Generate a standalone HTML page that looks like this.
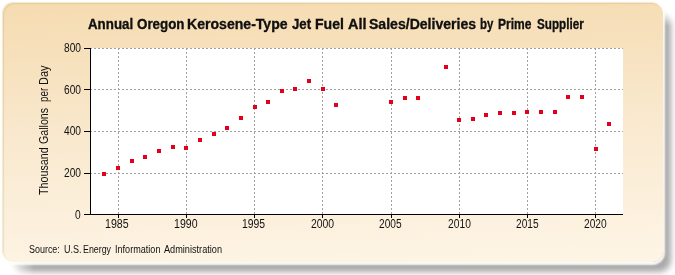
<!DOCTYPE html>
<html><head><meta charset="utf-8"><style>
html,body{margin:0;padding:0;background:#fff;width:675px;height:275px;overflow:hidden}
body{position:relative;font-family:"Liberation Sans",sans-serif;color:#111}
.frame{position:absolute;left:3px;top:3px;width:660px;height:259px;border-radius:11px;
background:linear-gradient(178deg,#f5dbb0 0%,#f9e9cf 50%,#fef5e6 100%);
box-shadow:inset 1px 1px 1px rgba(110,110,60,0.14),-1px -1px 1px 0px rgba(235,220,180,0.6),0 1px 2px 1.5px rgba(255,253,248,0.95)}
.shadow{position:absolute;left:11px;top:13px;width:660px;height:259px;border-radius:12px;background:rgba(0,0,0,0.34);filter:blur(3px)}
.swrap{position:absolute;left:0;top:0;width:675px;height:275px;-webkit-mask-image:linear-gradient(to right,transparent 8px,#000 34px),linear-gradient(to bottom,transparent 6px,#000 26px);-webkit-mask-composite:source-in;mask-composite:intersect}
.plot{position:absolute;left:91px;top:48px;width:532px;height:166px;background:#fff}
svg{position:absolute;left:0;top:0}
.g{stroke:#a0a0a0;stroke-width:1;stroke-dasharray:2 2}
.w{position:absolute;white-space:nowrap;transform-origin:0 0}
.ylab{position:absolute;left:38px;top:200.0px;width:1px;height:1px;transform:rotate(-90deg);transform-origin:0 0}
</style></head><body>
<div class="swrap"><div class="shadow"></div></div>
<div class="frame"></div>
<div class="plot"></div>
<span class="w" style="font-weight:bold;font-size:14px;line-height:16px;-webkit-text-stroke:0.3px #000;left:87.50px;top:16px;transform:scaleX(0.9511)">Annual</span>
<span class="w" style="font-weight:bold;font-size:14px;line-height:16px;-webkit-text-stroke:0.3px #000;left:136.60px;top:16px;transform:scaleX(0.9531)">Oregon</span>
<span class="w" style="font-weight:bold;font-size:14px;line-height:16px;-webkit-text-stroke:0.3px #000;left:186.69px;top:16px;transform:scaleX(1.0051)">Kerosene-Type</span>
<span class="w" style="font-weight:bold;font-size:14px;line-height:16px;-webkit-text-stroke:0.3px #000;left:292.20px;top:16px;transform:scaleX(0.9450)">Jet</span>
<span class="w" style="font-weight:bold;font-size:14px;line-height:16px;-webkit-text-stroke:0.3px #000;left:314.50px;top:16px;transform:scaleX(1.0037)">Fuel</span>
<span class="w" style="font-weight:bold;font-size:14px;line-height:16px;-webkit-text-stroke:0.3px #000;left:347.70px;top:16px;transform:scaleX(1.0353)">All</span>
<span class="w" style="font-weight:bold;font-size:14px;line-height:16px;-webkit-text-stroke:0.3px #000;left:369.10px;top:16px;transform:scaleX(1.0038)">Sales/Deliveries</span>
<span class="w" style="font-weight:bold;font-size:14px;line-height:16px;-webkit-text-stroke:0.3px #000;left:479.79px;top:16px;transform:scaleX(0.8133)">by</span>
<span class="w" style="font-weight:bold;font-size:14px;line-height:16px;-webkit-text-stroke:0.3px #000;left:498.14px;top:16px;transform:scaleX(0.8605)">Prime</span>
<span class="w" style="font-weight:bold;font-size:14px;line-height:16px;-webkit-text-stroke:0.3px #000;left:537.10px;top:16px;transform:scaleX(0.8339)">Supplier</span>
<span class="w" style="font-size:10px;line-height:10px;left:29.40px;top:245px;transform:scaleX(0.8941)">Source:</span>
<span class="w" style="font-size:10px;line-height:10px;left:63.50px;top:245px;transform:scaleX(0.9000)">U.S.</span>
<span class="w" style="font-size:10px;line-height:10px;left:83.42px;top:245px;transform:scaleX(0.8839)">Energy</span>
<span class="w" style="font-size:10px;line-height:10px;left:115.19px;top:245px;transform:scaleX(0.9082)">Information</span>
<span class="w" style="font-size:10px;line-height:10px;left:164.30px;top:245px;transform:scaleX(0.9159)">Administration</span>
<span class="w" style="font-size:12px;line-height:12px;left:74.65px;top:209px;transform:scaleX(0.85)">0</span>
<span class="w" style="font-size:12px;line-height:12px;left:63.60px;top:167px;transform:scaleX(0.85)">200</span>
<span class="w" style="font-size:12px;line-height:12px;left:64.00px;top:125px;transform:scaleX(0.85)">400</span>
<span class="w" style="font-size:12px;line-height:12px;left:64.00px;top:84px;transform:scaleX(0.85)">600</span>
<span class="w" style="font-size:12px;line-height:12px;left:64.00px;top:42px;transform:scaleX(0.85)">800</span>
<span class="w" style="font-size:12px;line-height:12px;left:105.12px;top:218px;transform:scaleX(0.8846)">1985</span>
<span class="w" style="font-size:12px;line-height:12px;left:174.12px;top:218px;transform:scaleX(0.8808)">1990</span>
<span class="w" style="font-size:12px;line-height:12px;left:242.03px;top:218px;transform:scaleX(0.8654)">1995</span>
<span class="w" style="font-size:12px;line-height:12px;left:310.60px;top:218px;transform:scaleX(0.8667)">2000</span>
<span class="w" style="font-size:12px;line-height:12px;left:378.60px;top:218px;transform:scaleX(0.8444)">2005</span>
<span class="w" style="font-size:12px;line-height:12px;left:447.60px;top:218px;transform:scaleX(0.8556)">2010</span>
<span class="w" style="font-size:12px;line-height:12px;left:515.60px;top:218px;transform:scaleX(0.8444)">2015</span>
<span class="w" style="font-size:12px;line-height:12px;left:584.00px;top:218px;transform:scaleX(0.8519)">2020</span>
<div class="ylab">
<span class="w" style="font-size:12px;line-height:12px;left:4.50px;top:0px;transform:scaleX(0.8925)">Thousand</span>
<span class="w" style="font-size:12px;line-height:12px;left:55.50px;top:0px;transform:scaleX(0.8878)">Gallons</span>
<span class="w" style="font-size:12px;line-height:12px;left:97.70px;top:0px;transform:scaleX(0.8176)">per</span>
<span class="w" style="font-size:12px;line-height:12px;left:115.09px;top:0px;transform:scaleX(0.9100)">Day</span>
</div>
<svg width="675" height="275">
<line x1="90" y1="173.5" x2="623" y2="173.5" class="g"/>
<line x1="90" y1="131.5" x2="623" y2="131.5" class="g"/>
<line x1="90" y1="89.5" x2="623" y2="89.5" class="g"/>
<line x1="90" y1="48.5" x2="623" y2="48.5" class="g"/>
<line x1="118.5" y1="48" x2="118.5" y2="214" class="g"/>
<line x1="186.5" y1="48" x2="186.5" y2="214" class="g"/>
<line x1="254.5" y1="48" x2="254.5" y2="214" class="g"/>
<line x1="322.5" y1="48" x2="322.5" y2="214" class="g"/>
<line x1="391.5" y1="48" x2="391.5" y2="214" class="g"/>
<line x1="459.5" y1="48" x2="459.5" y2="214" class="g"/>
<line x1="527.5" y1="48" x2="527.5" y2="214" class="g"/>
<line x1="595.5" y1="48" x2="595.5" y2="214" class="g"/>
<rect x="90" y="48" width="1" height="167" fill="#000"/>
<rect x="90" y="214" width="533" height="1" fill="#000"/>
<rect x="84" y="214" width="6" height="1" fill="#000"/>
<rect x="84" y="173" width="6" height="1" fill="#000"/>
<rect x="84" y="131" width="6" height="1" fill="#000"/>
<rect x="84" y="89" width="6" height="1" fill="#000"/>
<rect x="84" y="48" width="6" height="1" fill="#000"/>
<rect x="118" y="215" width="1" height="3" fill="#000"/>
<rect x="186" y="215" width="1" height="3" fill="#000"/>
<rect x="254" y="215" width="1" height="3" fill="#000"/>
<rect x="322" y="215" width="1" height="3" fill="#000"/>
<rect x="391" y="215" width="1" height="3" fill="#000"/>
<rect x="459" y="215" width="1" height="3" fill="#000"/>
<rect x="527" y="215" width="1" height="3" fill="#000"/>
<rect x="595" y="215" width="1" height="3" fill="#000"/>
<rect x="102" y="172" width="4" height="4" fill="#e4001c"/>
<rect x="116" y="166" width="4" height="4" fill="#e4001c"/>
<rect x="130" y="159" width="4" height="4" fill="#e4001c"/>
<rect x="143" y="155" width="4" height="4" fill="#e4001c"/>
<rect x="157" y="149" width="4" height="4" fill="#e4001c"/>
<rect x="171" y="145" width="4" height="4" fill="#e4001c"/>
<rect x="184" y="146" width="4" height="4" fill="#e4001c"/>
<rect x="198" y="138" width="4" height="4" fill="#e4001c"/>
<rect x="212" y="132" width="4" height="4" fill="#e4001c"/>
<rect x="225" y="126" width="4" height="4" fill="#e4001c"/>
<rect x="239" y="116" width="4" height="4" fill="#e4001c"/>
<rect x="253" y="105" width="4" height="4" fill="#e4001c"/>
<rect x="266" y="100" width="4" height="4" fill="#e4001c"/>
<rect x="280" y="89" width="4" height="4" fill="#e4001c"/>
<rect x="293" y="87" width="4" height="4" fill="#e4001c"/>
<rect x="307" y="79" width="4" height="4" fill="#e4001c"/>
<rect x="321" y="87" width="4" height="4" fill="#e4001c"/>
<rect x="334" y="103" width="4" height="4" fill="#e4001c"/>
<rect x="389" y="100" width="4" height="4" fill="#e4001c"/>
<rect x="403" y="96" width="4" height="4" fill="#e4001c"/>
<rect x="416" y="96" width="4" height="4" fill="#e4001c"/>
<rect x="444" y="65" width="4" height="4" fill="#e4001c"/>
<rect x="457" y="118" width="4" height="4" fill="#e4001c"/>
<rect x="471" y="117" width="4" height="4" fill="#e4001c"/>
<rect x="484" y="113" width="4" height="4" fill="#e4001c"/>
<rect x="498" y="111" width="4" height="4" fill="#e4001c"/>
<rect x="512" y="111" width="4" height="4" fill="#e4001c"/>
<rect x="525" y="110" width="4" height="4" fill="#e4001c"/>
<rect x="539" y="110" width="4" height="4" fill="#e4001c"/>
<rect x="553" y="110" width="4" height="4" fill="#e4001c"/>
<rect x="566" y="95" width="4" height="4" fill="#e4001c"/>
<rect x="580" y="95" width="4" height="4" fill="#e4001c"/>
<rect x="594" y="147" width="4" height="4" fill="#e4001c"/>
<rect x="607" y="122" width="4" height="4" fill="#e4001c"/>
</svg>
</body></html>
